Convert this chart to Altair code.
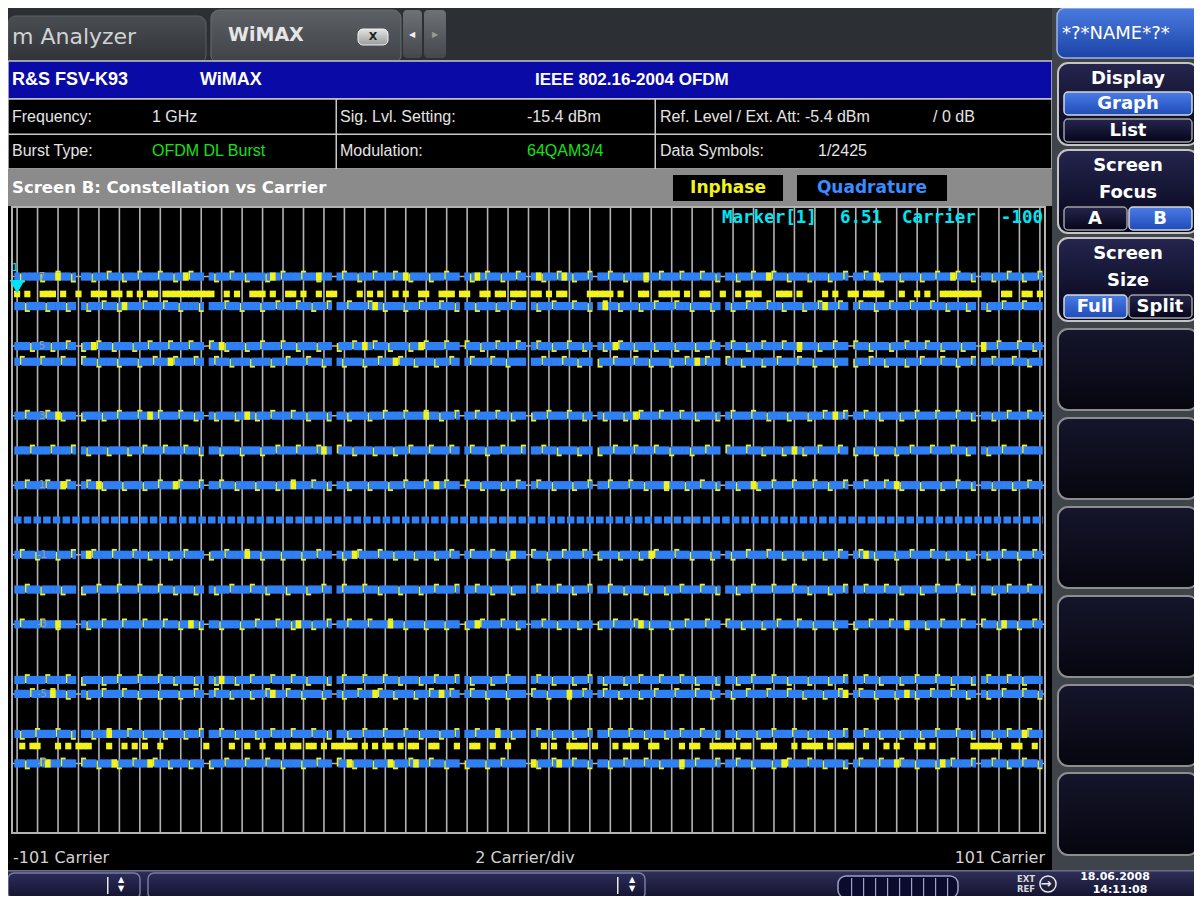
import altair as alt
import pandas as pd

x_domain = [-101, 101]          # carriers shown: -101 ... 101
y_domain = [-9.0, 9.0]          # normalised constellation value
grid_carriers = [-100, -96, -92, -88, -84, -80, -76, -72, -68, -64, -60, -56, -52, -48, -44,
                 -40, -36, -32, -28, -24, -20, -16, -12, -8, -4, 0, 4, 8, 12, 16, 20, 24, 28,
                 32, 36, 40, 44, 48, 52, 56, 60, 64, 68, 72, 76, 80, 84, 88, 92, 96, 100]
grid_levels = [7, 5, 3, 1, -1, -3, -5, -7]
grid_level_labels = ["7", "5", "3", "1", "-1", "-3", "-5", "-7"]
pilot_carriers = [-88, -63, -38, -13, 0, 13, 38, 63, 88]

# constellation bands (levels where Inphase / Quadrature points pile up)
band_levels = [7.0, 6.15, 5.0, 4.55, 3.0, 2.0, 1.0, -1.0, -2.0, -3.0, -4.6, -5.0, -6.15, -7.0]
band_yellow_edges = [
    [-99, -95, -92, -89, -85, -82, -79, -76, -72, -69, -66, -61, -58, -55, -51, -48, -44, -41, -36, -33, -30, -26, -23, -19, -16, -11, -8, -5, -2, 3, 6, 9, 12, 16, 19, 23, 26, 30, 34, 37, 41, 44, 48, 51, 55, 59, 62, 66, 69, 73, 77, 80, 84, 87, 91, 94, 97, 100],
    [-98, -94, -90, -86, -83, -80, -75, -71, -68, -64, -59, -56, -52, -49, -45, -42, -39, -35, -31, -28, -24, -21, -17, -14, -10, -6, -3, 2, 5, 9, 12, 15, 18, 22, 25, 29, 32, 36, 40, 43, 47, 50, 54, 57, 61, 65, 68, 71, 75, 79, 82, 86, 90, 93, 97],
    [-97, -93, -90, -87, -84, -81, -77, -74, -70, -66, -62, -59, -55, -52, -48, -45, -41, -37, -34, -30, -27, -23, -20, -16, -12, -9, -6, -2, 2, 5, 8, 11, 15, 18, 21, 25, 29, 33, 36, 40, 43, 46, 50, 53, 57, 60, 64, 67, 71, 74, 78, 81, 85, 89, 92, 96, 99],
    [-99, -95, -91, -87, -84, -80, -76, -73, -69, -65, -61, -58, -54, -50, -47, -43, -40, -36, -32, -29, -25, -22, -18, -15, -11, -7, -4, 3, 7, 10, 14, 17, 21, 24, 28, 31, 35, 39, 42, 46, 49, 53, 56, 60, 64, 67, 70, 74, 77, 81, 84, 87, 91, 95, 98],
    [-98, -94, -91, -87, -83, -80, -76, -72, -68, -65, -61, -57, -53, -50, -46, -43, -39, -35, -31, -28, -24, -20, -17, -14, -10, -6, -3, 1, 4, 8, 11, 15, 19, 22, 26, 30, 33, 37, 40, 44, 47, 51, 55, 58, 62, 66, 69, 73, 76, 80, 84, 87, 91, 94, 98],
    [-97, -93, -89, -86, -82, -78, -75, -71, -67, -64, -60, -56, -52, -49, -45, -41, -37, -34, -30, -26, -23, -19, -15, -11, -8, -5, -1, 3, 6, 10, 14, 17, 21, 25, 28, 32, 35, 39, 43, 46, 50, 54, 57, 61, 64, 68, 72, 75, 79, 83, 86, 90, 93, 97],
    [-98, -94, -90, -86, -83, -79, -75, -72, -68, -64, -60, -57, -53, -49, -46, -42, -39, -35, -31, -27, -24, -20, -16, -12, -9, -5, -2, 2, 5, 9, 12, 16, 20, 23, 27, 31, 34, 37, 41, 45, 48, 52, 56, 59, 62, 66, 70, 73, 77, 81, 84, 87, 91, 95, 98],
    [-99, -96, -92, -89, -85, -81, -77, -74, -70, -67, -62, -59, -55, -52, -48, -44, -41, -36, -33, -29, -26, -22, -18, -15, -11, -7, -4, 1, 4, 7, 11, 14, 18, 22, 25, 29, 32, 36, 40, 43, 47, 50, 54, 58, 61, 65, 68, 72, 75, 79, 82, 86, 90, 93, 96, 99],
    [-98, -95, -91, -87, -84, -80, -76, -72, -69, -65, -61, -58, -54, -51, -47, -43, -40, -36, -32, -29, -25, -21, -18, -14, -10, -7, -3, 2, 6, 9, 12, 16, 19, 23, 27, 30, 34, 37, 41, 44, 48, 52, 55, 59, 62, 66, 70, 73, 77, 80, 84, 87, 91, 94, 98],
    [-99, -95, -92, -86, -83, -79, -75, -71, -68, -64, -60, -56, -53, -49, -46, -42, -39, -35, -31, -27, -24, -20, -16, -12, -9, -5, -2, 3, 6, 10, 14, 17, 21, 24, 28, 31, 35, 39, 42, 46, 49, 53, 56, 60, 64, 67, 71, 74, 78, 81, 85, 89, 92, 96, 99],
    [-98, -94, -90, -87, -83, -80, -76, -72, -69, -65, -61, -57, -54, -50, -46, -43, -39, -36, -32, -28, -25, -21, -18, -14, -11, -7, -4, 2, 5, 9, 12, 15, 19, 22, 26, 30, 33, 37, 41, 44, 48, 51, 55, 59, 62, 66, 69, 73, 76, 80, 83, 87, 90, 94, 97],
    [-97, -93, -90, -86, -83, -79, -76, -72, -68, -65, -61, -58, -54, -51, -47, -44, -40, -36, -33, -29, -26, -22, -19, -15, -11, -8, -4, 1, 4, 8, 11, 15, 18, 22, 25, 29, 33, 36, 40, 43, 47, 51, 54, 58, 61, 65, 68, 72, 76, 79, 83, 86, 90, 93, 97, 100],
    [-99, -96, -92, -89, -85, -82, -78, -75, -71, -67, -64, -60, -57, -53, -50, -46, -42, -39, -35, -32, -28, -24, -21, -17, -14, -10, -6, -3, 2, 5, 9, 12, 16, 20, 23, 27, 30, 34, 37, 41, 45, 48, 52, 55, 59, 62, 66, 69, 73, 77, 80, 84, 87, 91, 94, 98],
    [-98, -95, -91, -87, -84, -80, -77, -73, -70, -66, -62, -59, -55, -51, -48, -44, -41, -37, -34, -30, -26, -23, -19, -16, -12, -8, -5, 2, 5, 9, 12, 16, 19, 23, 26, 30, 33, 37, 41, 44, 48, 51, 55, 58, 62, 65, 69, 73, 76, 80, 83, 87, 91, 94, 97, 100],
]
band_yellow_full = [
    [-92, -67, -50, -41, -24, -10, 2, 7, 23, 47, 68, 83],
    [-79, -30, 15, 58],
    [-85, -60, -32, -21, 17, 53, 89],
    [-70, -26, 33],
    [-92, -74, -55, -20, 21, 60],
    [-40, 52],
    [-91, -84, -69, -46, -18, 27, 44, 72],
    [-86, -55, -34, -3, 24, 66],
    [],
    [-92, -66, -45, -27, -10, 22, 74, 93],
    [-60],
    [-93, -50, -30, -17, 8, 62, 74],
    [-82, -6, 97],
    [-94, -81, -74, -35, -27, -22, 1, 6, 30, 50, 72, 81],
]
zero_level = 0.0
sparse_upper_level = 6.5
sparse_upper_carriers = [-100, -98, -95, -94, -93, -91, -88, -85, -84, -83, -81, -80, -78, -76, -74, -73,
                         -71, -70, -69, -68, -67, -66, -65, -64, -63, -62, -59, -57, -54, -53, -52, -50,
                         -47, -46, -44, -41, -39, -38, -33, -31, -29, -26, -24, -21, -20, -17, -16, -15,
                         -13, -12, -9, -8, -6, -5, -3, -2, -1, 1, 2, 4, 6, 7, 12, 13, 14, 15, 16, 18, 22,
                         23, 26, 27, 28, 29, 31, 34, 35, 38, 41, 43, 44, 45, 49, 50, 51, 53, 58, 60, 63,
                         64, 66, 67, 68, 69, 73, 76, 78, 81, 82, 83, 84, 85, 86, 87, 88, 93, 94, 97, 98, 100]
sparse_lower_level = -6.5
sparse_lower_carriers = [-99, -97, -96, -92, -90, -88, -87, -86, -82, -79, -77, -75, -72, -63, -58, -55,
                         -52, -49, -48, -46, -45, -43, -42, -40, -38, -37, -36, -35, -34, -32, -30, -28,
                         -27, -25, -23, -22, -19, -18, -14, -11, -10, -7, -4, 3, 5, 8, 9, 10, 11, 13, 17,
                         19, 20, 21, 24, 25, 30, 32, 33, 36, 37, 38, 39, 40, 42, 43, 46, 47, 48, 52, 54,
                         55, 56, 57, 59, 61, 62, 63, 66, 70, 72, 76, 77, 79, 87, 88, 89, 90, 91, 92, 95,
                         96, 99]
marker_carrier = -100
marker_value = 6.51

# ---------------- styling ----------------
BLUE = "#2f80f4"
YELLOW = "#f2f21c"
GRID = "#b2b2b2"
CYAN = "#00e4f4"
OX, OY = 8, 8                      # page margin: reference px -> chart px
W, H = 1186, 888
HB = 0.118                         # half height of a band blob (data units)

xs = alt.Scale(domain=x_domain, range=[12 - OX, 1045 - OX])
ys = alt.Scale(domain=y_domain, range=[833 - OY, 207 - OY])

data_carriers = list(range(-100, 101))

# ---------------- build mark tables ----------------
blue_rows, yel_under, yel_top = [], [], []
for bi, (lvl, edges, full) in enumerate(zip(band_levels, band_yellow_edges, band_yellow_full)):
    es, fs = set(edges), set(full)
    for c in data_carriers:
        if c in pilot_carriers:
            continue
        if c in es:
            s = 0.04 if (c + bi) % 2 == 0 else -0.04
            yel_under.append(dict(x1=c - 0.5, x2=c + 0.5, y1=lvl - HB - 0.01 + s, y2=lvl + HB + 0.01 + s))
            blue_rows.append(dict(x1=c - 0.2, x2=c + 0.55, y1=lvl - HB, y2=lvl + HB))
        else:
            blue_rows.append(dict(x1=c - 0.55, x2=c + 0.55, y1=lvl - HB, y2=lvl + HB))
        if c in fs:
            yel_top.append(dict(x1=c - 0.55, x2=c + 0.55, y1=lvl - HB, y2=lvl + HB))
for lvl, cs in ((sparse_upper_level, sparse_upper_carriers), (sparse_lower_level, sparse_lower_carriers)):
    for c in cs:
        yel_top.append(dict(x1=c - 0.6, x2=c + 0.6, y1=lvl - 0.095, y2=lvl + 0.095))

blue_df = pd.DataFrame(blue_rows)
yel_under_df = pd.DataFrame(yel_under)
yel_top_df = pd.DataFrame(yel_top)
vgrid_df = pd.DataFrame({"c": grid_carriers, "ylo": y_domain[0], "yhi": y_domain[1]})
hgrid_df = pd.DataFrame({"lvl": grid_levels, "lab": grid_level_labels,
                         "xlo": x_domain[0], "xhi": x_domain[1]})
frame_df = pd.DataFrame({"x1": [x_domain[0]], "x2": [x_domain[1]], "y1": [y_domain[0]], "y2": [y_domain[1]]})
zero_df = pd.DataFrame({"x1": [data_carriers[0] - 0.6], "x2": [data_carriers[-1] + 0.6], "y": [zero_level]})
marker_df = pd.DataFrame({"c": [marker_carrier], "v": [marker_value]})

one = pd.DataFrame({"k": [0]})


def vgrad(c1, c2):
    return alt.LinearGradient(gradient="linear",
                              stops=[alt.GradientStop(color=c1, offset=0),
                                     alt.GradientStop(color=c2, offset=1)],
                              x1=0, x2=0, y1=0, y2=1)


def box(x1, y1, x2, y2, fill, stroke=None, sw=1.0, r=0):
    kw = {"fill": fill, "cornerRadius": r}
    if stroke is None:
        kw["strokeWidth"] = 0
    else:
        kw["stroke"] = stroke
        kw["strokeWidth"] = sw
    return alt.Chart(one).mark_rect(**kw).encode(
        x=alt.value(x1 - OX), x2=alt.value(x2 - OX),
        y=alt.value(y1 - OY), y2=alt.value(y2 - OY))


def label(x, y, s, size=16, color="#e4e4e4", weight="normal", align="left",
          font="Liberation Sans"):
    return alt.Chart(one).mark_text(text=s, fontSize=size, color=color, fontWeight=weight,
                                    align=align, baseline="middle", font=font).encode(
        x=alt.value(x - OX), y=alt.value(y - OY))


def rects(df, color):
    return alt.Chart(df).mark_rect(color=color, strokeWidth=0).encode(
        x=alt.X("x1:Q", scale=xs, axis=None), x2="x2:Q",
        y=alt.Y("y1:Q", scale=ys, axis=None), y2="y2:Q")


layers = []

# ---- top tab bar ----
layers += [
    box(8, 16, 206, 63, vgrad("#4a4d51", "#2f3236"), stroke="#5c5f63", r=8),
    label(12, 37, "m Analyzer", size=22, color="#cfd2d4", font="DejaVu Sans"),
    box(211, 10, 401, 63, vgrad("#5d6064", "#3e4145"), stroke="#6a6d71", r=8),
    label(228, 35, "WiMAX", size=19, color="#e6e6e6", weight="bold", font="DejaVu Sans"),
    box(358, 29, 388, 45, vgrad("#e4e4e4", "#9a9a9a"), stroke="#f0f0f0", r=5),
    label(373, 37, "X", size=11, color="#202020", weight="bold", align="center", font="DejaVu Sans"),
    box(403, 10, 422, 58, vgrad("#6e7175", "#44474b"), r=4),
    box(424, 10, 446, 58, vgrad("#6e7175", "#44474b"), r=4),
    label(412, 35, "◀", size=8, color="#f0f0f0", align="center", font="DejaVu Sans"),
    label(435, 35, "▶", size=8, color="#9a9a9a", align="center", font="DejaVu Sans"),
]

# ---- title / info table ----
layers += [
    box(8, 61, 1052, 99, "#0a0aa6", stroke="#c8c8c8", sw=1.5),
    label(12, 80, "R&S FSV-K93", size=18, color="#ffffff", weight="bold"),
    label(200, 80, "WiMAX", size=18, color="#ffffff", weight="bold"),
    label(535, 80, "IEEE 802.16-2004 OFDM", size=17, color="#ffffff", weight="bold"),
    box(8, 99, 1052, 169, "#000000", stroke="#c8c8c8", sw=1.5),
    box(8, 133.5, 1052, 135, "#c8c8c8"),
    box(335.5, 99, 337, 169, "#c8c8c8"),
    box(654.5, 99, 656, 169, "#c8c8c8"),
    label(12, 117, "Frequency:"),
    label(152, 117, "1 GHz"),
    label(340, 117, "Sig. Lvl. Setting:"),
    label(527, 117, "-15.4 dBm"),
    label(660, 117, "Ref. Level / Ext. Att: -5.4 dBm"),
    label(933, 117, "/ 0 dB"),
    label(12, 151, "Burst Type:"),
    label(152, 151, "OFDM DL Burst", color="#18e018"),
    label(340, 151, "Modulation:"),
    label(527, 151, "64QAM3/4", color="#18e018"),
    label(660, 151, "Data Symbols:"),
    label(818, 151, "1/2425"),
    box(8, 169, 1052, 206, "#8b8b8b"),
    label(12, 188, "Screen B: Constellation vs Carrier", size=16.5, color="#ffffff",
          weight="bold", font="DejaVu Sans"),
    box(673, 175, 783, 201, "#000000"),
    label(728, 188, "Inphase", size=17, color=YELLOW, weight="bold", align="center",
          font="DejaVu Sans"),
    box(797, 175, 947, 201, "#000000"),
    label(872, 188, "Quadrature", size=17, color="#3a8cff", weight="bold", align="center",
          font="DejaVu Sans"),
    box(8, 206, 1052, 870, "#000000"),
]

# ---- plot: grid, bands, marker ----
layers += [
    alt.Chart(hgrid_df).mark_rule(color=GRID, strokeWidth=1.5).encode(
        y=alt.Y("lvl:Q", scale=ys, axis=None),
        x=alt.X("xlo:Q", scale=xs, axis=None), x2="xhi:Q"),
    alt.Chart(vgrid_df).mark_rule(color=GRID, strokeWidth=1.6).encode(
        x=alt.X("c:Q", scale=xs, axis=None),
        y=alt.Y("ylo:Q", scale=ys, axis=None), y2="yhi:Q"),
    alt.Chart(frame_df).mark_rect(fillOpacity=0, stroke=GRID, strokeWidth=2).encode(
        x=alt.X("x1:Q", scale=xs, axis=None), x2="x2:Q",
        y=alt.Y("y1:Q", scale=ys, axis=None), y2="y2:Q"),
    rects(yel_under_df, YELLOW),
    rects(blue_df, BLUE),
    alt.Chart(zero_df).mark_rule(color=BLUE, strokeWidth=7, strokeDash=[7.5, 2.2],
                                 strokeCap="butt").encode(
        x=alt.X("x1:Q", scale=xs, axis=None), x2="x2:Q",
        y=alt.Y("y:Q", scale=ys, axis=None)),
    rects(yel_top_df, YELLOW),
    alt.Chart(hgrid_df).mark_text(color="#9c9c9c", fontSize=10, font="DejaVu Sans",
                                  align="center", baseline="middle").encode(
        x=alt.value(42 - OX), y=alt.Y("lvl:Q", scale=ys, axis=None), text="lab:N"),
    alt.Chart(marker_df).mark_point(shape="triangle-down", size=230, filled=True,
                                    color=CYAN, opacity=1, yOffset=-7).encode(
        x=alt.X("c:Q", scale=xs, axis=None), y=alt.Y("v:Q", scale=ys, axis=None)),
    alt.Chart(marker_df).mark_text(text="1", color=CYAN, fontSize=11, font="DejaVu Sans Mono",
                                   dx=-2, dy=-26).encode(
        x=alt.X("c:Q", scale=xs, axis=None), y=alt.Y("v:Q", scale=ys, axis=None)),
]

# marker read-out and x-axis captions
layers += [
    label(722, 218, "Marker[1]", size=17.5, color=CYAN, weight="bold", font="DejaVu Sans Mono"),
    label(840, 218, "6.51", size=17.5, color=CYAN, weight="bold", font="DejaVu Sans Mono"),
    label(902, 218, "Carrier", size=17.5, color=CYAN, weight="bold", font="DejaVu Sans Mono"),
    label(1043, 218, "-100", size=17.5, color=CYAN, weight="bold", align="right",
          font="DejaVu Sans Mono"),
    label(13, 858, "-101 Carrier", size=16, color="#d2d2d2", font="DejaVu Sans"),
    label(525, 858, "2 Carrier/div", size=16, color="#d2d2d2", align="center", font="DejaVu Sans"),
    label(1045, 858, "101 Carrier", size=16, color="#d2d2d2", align="right", font="DejaVu Sans"),
]

# ---- right soft-key panel ----
NAVY = vgrad("#25254e", "#05051a")
HL = vgrad("#4a7ce6", "#1f4bb8")
layers += [
    box(1052, 8, 1202, 870, "#3e4449"),
    box(1057, 8, 1212, 58, vgrad("#4a7be0", "#1b43a6"), stroke="#9fb4e6", sw=1.5, r=8),
    label(1062, 34, "*?*NAME*?*", size=18, color="#ffffff", font="DejaVu Sans"),
    box(1198, 64, 1203, 143, "#3566d4"),
    box(1198, 152, 1203, 231, "#3566d4"),
    box(1198, 240, 1203, 319, "#3566d4"),
]
buttons = [
    (63, 145, ["Display"], [("Graph", True), ("List", False)], "stack"),
    (150, 233, ["Screen", "Focus"], [("A", False), ("B", True)], "row"),
    (238, 321, ["Screen", "Size"], [("Full", True), ("Split", False)], "row"),
]
for y1, y2, titles, subs, kind in buttons:
    layers.append(box(1058, y1, 1198, y2, NAVY, stroke="#c4c4c4", sw=2, r=10))
    for i, t in enumerate(titles):
        layers.append(label(1128, y1 + 16 + 27 * i, t, size=18, color="#ffffff",
                            weight="bold", align="center", font="DejaVu Sans"))
    if kind == "stack":
        for i, (t, on) in enumerate(subs):
            ty = y1 + 29 + 27 * i
            layers.append(box(1064, ty, 1192, ty + 23, HL if on else NAVY,
                              stroke="#d8d8d8" if on else "#a0a0a0", sw=1.5, r=4))
            layers.append(label(1128, ty + 12, t, size=18, color="#ffffff", weight="bold",
                                align="center", font="DejaVu Sans"))
    else:
        for i, (t, on) in enumerate(subs):
            bx = 1064 + 65 * i
            layers.append(box(bx, y2 - 26, bx + 63, y2 - 3, HL if on else NAVY,
                              stroke="#d8d8d8" if on else "#a0a0a0", sw=1.5, r=4))
            layers.append(label(bx + 31, y2 - 14, t, size=18, color="#ffffff", weight="bold",
                                align="center", font="DejaVu Sans"))
for y1, y2 in [(329, 410), (418, 499), (507, 588), (596, 677), (685, 766), (773, 855)]:
    layers.append(box(1058, y1, 1198, y2, vgrad("#15152c", "#06060f"), stroke="#8e8e8e",
                      sw=2, r=10))

# ---- bottom status bar ----
layers += [
    box(0, 870, 1202, 904, vgrad("#30305a", "#0c0c24")),
    box(8, 870, 1202, 871.5, "#6c6c8c"),
    box(8, 873, 140, 899, vgrad("#2c2c58", "#12122e"), stroke="#7a7aa4", sw=1.5, r=6),
    box(107, 877, 108.5, 894, "#e8e8e8"),
    label(121, 880, "▲", size=8, color="#ffffff", align="center", font="DejaVu Sans"),
    label(121, 889, "▼", size=8, color="#ffffff", align="center", font="DejaVu Sans"),
    box(148, 873, 645, 899, vgrad("#2c2c58", "#12122e"), stroke="#7a7aa4", sw=1.5, r=6),
    box(617, 877, 618.5, 894, "#e8e8e8"),
    label(632, 880, "▲", size=8, color="#ffffff", align="center", font="DejaVu Sans"),
    label(632, 889, "▼", size=8, color="#ffffff", align="center", font="DejaVu Sans"),
    box(838, 876, 958, 898, "#0b0b2e", stroke="#a0a0c4", sw=1.5, r=8),
]
for sx in [851, 863, 875, 887, 899, 911, 923, 935, 947]:
    layers.append(box(sx, 878, sx + 1.2, 896, "#a0a0c4"))
layers += [
    label(1026, 879, "EXT", size=8.5, color="#d8d8d8", weight="bold", align="center",
          font="DejaVu Sans"),
    label(1026, 889, "REF", size=8.5, color="#d8d8d8", weight="bold", align="center",
          font="DejaVu Sans"),
    alt.Chart(one).mark_point(shape="circle", size=260, filled=False, color="#e8e8e8",
                              strokeWidth=1.5, opacity=1).encode(
        x=alt.value(1048 - OX), y=alt.value(884 - OY)),
    label(1046, 884, "→", size=13, color="#e8e8e8", weight="bold", align="center",
          font="DejaVu Sans"),
    label(1115, 877, "18.06.2008", size=11, color="#ffffff", weight="bold", align="center",
          font="DejaVu Sans"),
    label(1120, 889.5, "14:11:08", size=11, color="#ffffff", weight="bold", align="center",
          font="DejaVu Sans"),
]

chart = alt.layer(*layers).properties(
    width=W, height=H, padding=0,
    autosize=alt.AutoSizeParams(type="none"),
    background="#2c3034",
).configure_view(strokeWidth=0)

chart.save("out.html", embed_options={"renderer": "svg", "actions": False})
